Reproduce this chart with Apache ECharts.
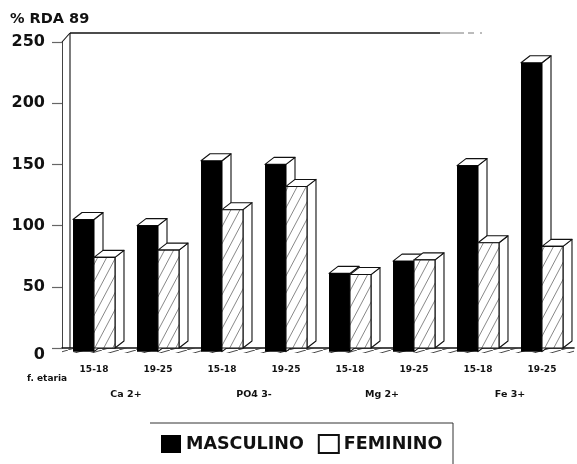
<!DOCTYPE html>
<html><head><meta charset="utf-8">
<style>html,body{margin:0;padding:0;background:#fff}#c{width:577px;height:464px}</style>
<script src="https://cdn.jsdelivr.net/npm/echarts@6/dist/echarts.min.js"></script>
</head><body><div id="c"></div>
<script>
const ageLabels = ['15-18','19-25','15-18','19-25','15-18','19-25','15-18','19-25'];
const ionLabels = ['Ca 2+','PO4 3-','Mg 2+','Fe 3+'];
const masculino = [105,100,153,150,61,71,149,233];
const feminino  = [74,80,113,132,60,72,86,83];

const INK='#111', FONT='"DejaVu Sans"';
function hatch(w,h,lw,col){
  const c=document.createElement('canvas');c.width=w;c.height=h;
  const g=c.getContext('2d');g.strokeStyle=col;g.lineWidth=lw;
  g.beginPath();
  for(const d of [-w,0,w]){g.moveTo(d,h);g.lineTo(d+w,0);}
  g.stroke();return c;
}
const barHatch=hatch(9,17,0.7,'#555');
const floorHatch=hatch(17,5,0.9,'#333');
const DX=9,DY=-7;

function bar3d(side,ext){
  return function(params,api){
    const i=api.value(0),v=api.value(1);
    const c=api.coord([i,v]),b=api.coord([i,ext]);
    const w=api.size([1,0])[0]*0.328;
    const x0=side<0?c[0]-w:c[0],x1=x0+w,yt=c[1],yb=b[1];
    const line={stroke:INK,lineWidth:1.1,lineJoin:'round'};
    return {type:'group',children:[
      {type:'polygon',shape:{points:[[x1,yt],[x1+DX,yt+DY],[x1+DX,yb+DY],[x1,yb]]},style:{fill:'#fff',...line}},
      {type:'polygon',shape:{points:[[x0,yt],[x0+DX,yt+DY],[x1+DX,yt+DY],[x1,yt]]},style:{fill:'#fff',...line}},
      {type:'rect',shape:{x:x0,y:yt,width:w,height:yb-yt},
        style:side<0?{fill:'#000'}:{fill:'#fff'}},
      side<0?{type:'group'}:{type:'rect',shape:{x:x0,y:yt,width:w,height:yb-yt},
        style:{fill:{image:barHatch,repeat:'repeat'},...line}}
    ]};
  };
}
function frame(params,api){
  const half=api.size([1,0])[0]/2;
  const a0=api.coord([0,250]),o0=api.coord([0,0]),e0=api.coord([7,0]);
  const a=[a0[0]-half,a0[1]],o=[o0[0]-half,o0[1]],e=[e0[0]+half,e0[1]];
  const s={stroke:INK,lineWidth:1.1};
  return {type:'group',children:[
    {type:'line',shape:{x1:a[0],y1:a[1],x2:a[0]+8,y2:a[1]-9},style:s},
    {type:'line',shape:{x1:a[0]+8,y1:a[1]-9,x2:a[0]+8,y2:o[1]},style:s},
    {type:'line',shape:{x1:a[0]+8,y1:a[1]-9,x2:a[0]+378,y2:a[1]-9},style:{stroke:INK,lineWidth:1.3}},
    {type:'line',shape:{x1:a[0]+378,y1:a[1]-9,x2:a[0]+420,y2:a[1]-9},style:{stroke:'#555',lineWidth:0.8,lineDash:[24,4,6,6]}},
    {type:'rect',shape:{x:o[0],y:o[1],width:e[0]-o[0],height:5},style:{fill:{image:floorHatch,repeat:'repeat'}}}
  ]};
}
const chart=echarts.init(document.getElementById('c'),null,{renderer:'canvas'});
chart.setOption({
  animation:false,backgroundColor:'#fff',
  grid:{left:62,width:512,top:42,bottom:116,containLabel:false},
  xAxis:[
    {type:'category',data:ageLabels,position:'bottom',boundaryGap:true,
      axisLine:{lineStyle:{color:INK,width:1.6}},
      axisTick:{alignWithLabel:true,length:9,lineStyle:{color:'#333',width:1}},
      axisLabel:{interval:0,margin:17,fontFamily:FONT,fontWeight:'bold',fontSize:9,color:INK}},
    {type:'category',data:ionLabels,position:'bottom',offset:42,
      axisLine:{show:false},axisTick:{show:false},
      axisLabel:{interval:0,margin:0,fontFamily:FONT,fontWeight:'bold',fontSize:9.5,color:INK}}
  ],
  yAxis:{type:'value',min:0,max:250,interval:50,
    axisLine:{show:true,lineStyle:{color:'#444',width:1}},
    axisTick:{show:true,length:10,lineStyle:{color:'#666',width:1.2}},
    splitLine:{show:false},
    axisLabel:{margin:17,color:INK,fontFamily:FONT,fontWeight:'bold',fontSize:16,
      formatter:v=>v===0?'{z|0}':String(v),
      rich:{z:{fontFamily:FONT,fontWeight:'bold',fontSize:16,color:INK,padding:[14,0,0,0]}}}},
  legend:{left:156,top:429,itemWidth:20,itemHeight:18,itemGap:14,selectedMode:false,
    data:[{name:'MASCULINO',icon:'rect'},{name:'FEMININO',icon:'rect'}],
    textStyle:{fontFamily:FONT,fontWeight:'bold',fontSize:17.5,color:INK}},
  graphic:[
    {type:'text',left:10,top:12,style:{text:'% RDA 89',font:'bold 14.5px "DejaVu Sans"',fill:INK}},
    {type:'text',left:27,top:374,style:{text:'f. etaria',font:'bold 9px "DejaVu Sans"',fill:INK}},
    {type:'polyline',shape:{points:[[150,423],[453,423],[453,464]]},style:{stroke:'#333',fill:'none',lineWidth:1}}
  ],
  series:[
    {type:'custom',name:'frame',renderItem:frame,data:[[0]],silent:true,z:1,clip:false,encode:{x:0,y:-1}},
    {type:'custom',name:'MASCULINO',renderItem:bar3d(-1,-3),z:2,clip:false,
      itemStyle:{color:'#000'},encode:{x:0,y:1},
      data:masculino.map((v,i)=>[i,v])},
    {type:'custom',name:'FEMININO',renderItem:bar3d(1,0),z:3,clip:false,
      itemStyle:{color:'#fff',borderColor:INK,borderWidth:1},encode:{x:0,y:1},
      data:feminino.map((v,i)=>[i,v])}
  ]
});
</script></body></html>
